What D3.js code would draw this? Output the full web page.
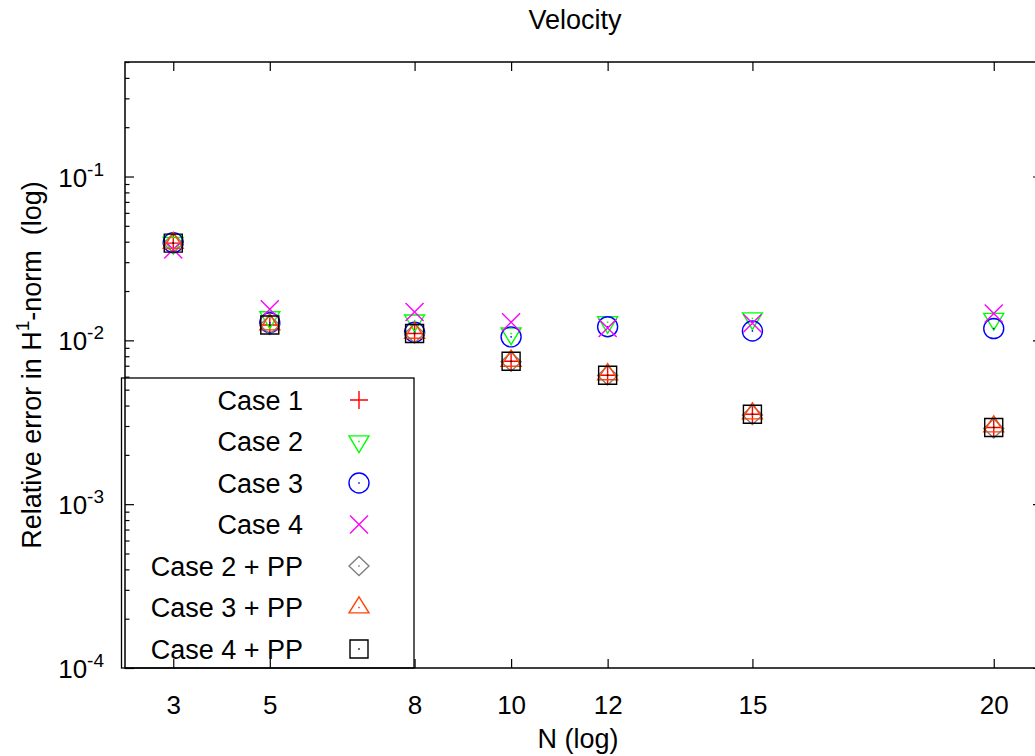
<!DOCTYPE html>
<html>
<head>
<meta charset="utf-8">
<script src="https://cdn.jsdelivr.net/npm/d3@7"></script>
<style>
  body { margin: 0; background: #fff; }
  text { font-family: "Liberation Sans", Arial, Helvetica, sans-serif; }
</style>
</head>
<body>
<script>
// N values (x axis)
const nValues = [3, 5, 8, 10, 12, 15, 20];

// relative error in H1-norm for each case
const case1   = [0.0392, 0.0124, 0.0110, 0.00745, 0.00612, 0.00354, 0.00294];
const case2   = [0.0392, 0.0138, 0.0132, 0.0110, 0.0129, 0.0136, 0.0135];
const case3   = [0.0395, 0.0128, 0.0112, 0.0105, 0.0121, 0.0114, 0.0118];
const case4   = [0.0359, 0.0155, 0.0149, 0.0129, 0.0119, 0.0127, 0.0146];
const case2pp = [0.0390, 0.0124, 0.0110, 0.00740, 0.00610, 0.00350, 0.00290];
const case3pp = [0.0393, 0.0125, 0.0111, 0.00750, 0.00620, 0.00358, 0.00298];
const case4pp = [0.0392, 0.0124, 0.0110, 0.00745, 0.00612, 0.00354, 0.00294];

const seriesNames = ["Case 1", "Case 2", "Case 3", "Case 4", "Case 2 + PP", "Case 3 + PP", "Case 4 + PP"];
const seriesValues = [case1, case2, case3, case4, case2pp, case3pp, case4pp];
const seriesColors = ["#ff0000", "#00ff00", "#0000ff", "#ff00ff", "#808080", "#ff4500", "#000000"];
const seriesSymbols = ["plus", "triDown", "circle", "times", "diamond", "triUp", "square"];

const yMajorTicks = [1e-4, 1e-3, 1e-2, 1e-1];
const yTickExps = ["-4", "-3", "-2", "-1"];

const width = 1035, height = 756;
const margin = { top: 62, right: -7, bottom: 88, left: 125 };
const fontSize = 27;

const svg = d3.select("body").append("svg")
    .attr("width", width)
    .attr("height", height);

const x = d3.scaleLinear()
    .domain([2, 21])
    .range([margin.left, width - margin.right]);

const y = d3.scaleLog()
    .domain([1e-4, 0.5])
    .range([height - margin.bottom, margin.top]);

const plotW = x.range()[1] - x.range()[0];
const plotH = y.range()[0] - y.range()[1];

// minor log ticks (2..9 in each decade)
const yMinor = [];
for (let e = -4; e <= -1; e++) {
  for (let m = 2; m <= 9; m++) {
    const v = m * Math.pow(10, e);
    if (v <= 0.5) yMinor.push(v);
  }
}

// bottom + top ticks
svg.append("g")
    .attr("transform", `translate(0,${y.range()[0]})`)
    .call(d3.axisBottom(x).tickValues(nValues).tickSizeInner(-9).tickSizeOuter(0).tickPadding(28))
    .call(g => g.select(".domain").remove())
    .call(g => g.selectAll("text").attr("font-size", 26).attr("fill", "#000").attr("font-family", "Liberation Sans, Arial, sans-serif"));

svg.append("g")
    .attr("transform", `translate(0,${y.range()[1]})`)
    .call(d3.axisTop(x).tickValues(nValues).tickSizeInner(-9).tickSizeOuter(0).tickFormat(""))
    .call(g => g.select(".domain").remove());

// left + right ticks
[[d3.axisLeft, x.range()[0]], [d3.axisRight, x.range()[1]]].forEach(([axisFn, pos]) => {
  svg.append("g")
      .attr("transform", `translate(${pos},0)`)
      .call(axisFn(y).tickValues(yMajorTicks).tickSizeInner(-9).tickSizeOuter(0).tickFormat(""))
      .call(g => g.select(".domain").remove());
  svg.append("g")
      .attr("transform", `translate(${pos},0)`)
      .call(axisFn(y).tickValues(yMinor).tickSizeInner(-4.5).tickSizeOuter(0).tickFormat(""))
      .call(g => g.select(".domain").remove());
});

svg.selectAll(".tick line").attr("stroke", "#000").attr("stroke-width", 1.2);

// y tick labels 10^e
const yLabels = svg.append("g")
    .selectAll("text")
    .data(yMajorTicks)
    .enter()
    .append("text")
    .attr("x", 104)
    .attr("y", d => y(d) + 10)
    .attr("text-anchor", "end")
    .attr("font-size", 26);
yLabels.append("tspan").text("10");
yLabels.append("tspan")
    .attr("dy", -11)
    .attr("font-size", 19)
    .text((d, i) => yTickExps[i]);

// border
svg.append("rect")
    .attr("x", x.range()[0])
    .attr("y", y.range()[1])
    .attr("width", plotW)
    .attr("height", plotH)
    .attr("fill", "none")
    .attr("stroke", "#000")
    .attr("stroke-width", 1.5);

// titles
svg.append("text")
    .attr("x", 575)
    .attr("y", 29)
    .attr("text-anchor", "middle")
    .attr("font-size", fontSize)
    .text("Velocity");

svg.append("text")
    .attr("x", 578)
    .attr("y", 748)
    .attr("text-anchor", "middle")
    .attr("font-size", fontSize)
    .text("N (log)");

const yTitle = svg.append("text")
    .attr("transform", `translate(41,${(y.range()[0] + y.range()[1]) / 2}) rotate(-90)`)
    .attr("text-anchor", "middle")
    .attr("font-size", fontSize);
yTitle.append("tspan").text("Relative error in H");
yTitle.append("tspan").attr("dy", -12).attr("font-size", 19).text("1");
yTitle.append("tspan").attr("dy", 12).text("-norm\u00a0\u00a0(log)");

// point symbols, gnuplot style
function symbolPath(type) {
  switch (type) {
    case "plus": return "M-9,0H9M0,-9V9";
    case "times": return "M-9,-9L9,9M-9,9L9,-9";
    case "triDown": return "M-10,-5.6L10,-5.6L0,11.1Z";
    case "triUp": return "M-10,5.4L10,5.4L0,-10.7Z";
    case "circle": return "M10,0A10,10 0 1,1 -10,0A10,10 0 1,1 10,0Z";
    case "diamond": return "M0,-9.5L10,0L0,9.5L-10,0Z";
    case "square": return "M-9,-9H9V9H-9Z";
  }
}
const hasDot = t => t !== "plus" && t !== "times";

function drawSymbol(g, type, color) {
  g.append("path")
      .attr("d", symbolPath(type))
      .attr("fill", "none")
      .attr("stroke", color)
      .attr("stroke-width", 1.4);
  if (hasDot(type)) {
    g.append("rect")
        .attr("x", -0.75).attr("y", -0.75)
        .attr("width", 1.5).attr("height", 1.5)
        .attr("fill", color);
  }
}

// data points, drawn in plot order
seriesValues.forEach((vals, si) => {
  const pts = svg.append("g").selectAll("g")
      .data(vals.map((v, i) => ({ n: nValues[i], v })))
      .enter()
      .append("g")
      .attr("transform", d => `translate(${x(d.n)},${y(d.v)})`);
  pts.each(function () { drawSymbol(d3.select(this), seriesSymbols[si], seriesColors[si]); });
});

// legend
const legend = svg.append("g");
legend.append("rect")
    .attr("x", 121.5)
    .attr("y", 378)
    .attr("width", 292.5)
    .attr("height", y.range()[0] - 378)
    .attr("fill", "none")
    .attr("stroke", "#000")
    .attr("stroke-width", 1.3);

seriesNames.forEach((name, i) => {
  const cy = 400 + i * 41.5;
  legend.append("text")
      .attr("x", 303)
      .attr("y", cy + 9.5)
      .attr("text-anchor", "end")
      .attr("font-size", fontSize)
      .text(name);
  drawSymbol(legend.append("g").attr("transform", `translate(359,${cy})`), seriesSymbols[i], seriesColors[i]);
});
</script>
</body>
</html>
